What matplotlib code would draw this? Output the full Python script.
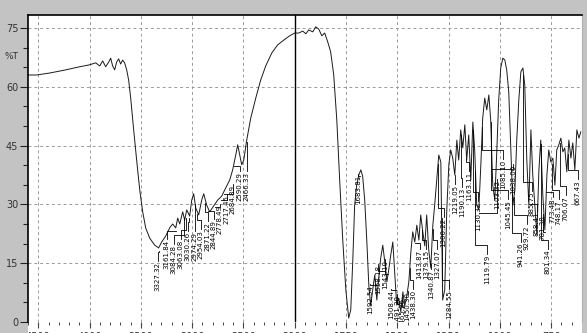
import numpy as np
import matplotlib
matplotlib.use("Agg")
import matplotlib.pyplot as plt
from matplotlib.patches import Rectangle
from matplotlib.ticker import FixedLocator, NullFormatter
from matplotlib.transforms import blended_transform_factory

# IR spectrum: wavenumber (cm-1) and transmittance (%T)
wavenumber = [
    4600, 4515, 4389, 4233, 4096, 3999, 3940, 3901, 3872, 3843,
    3813, 3794, 3775, 3755, 3736, 3716, 3697, 3677, 3658, 3638,
    3619, 3599, 3570, 3541, 3511, 3482, 3453, 3414, 3365, 3327,
    3297, 3258, 3219, 3190, 3160, 3141, 3121, 3092, 3073, 3053,
    3024, 3004, 2985, 2965, 2936, 2907, 2887, 2858, 2829, 2790,
    2751, 2712, 2673, 2634, 2605, 2575, 2556, 2536, 2517, 2497,
    2468, 2429, 2380, 2332, 2283, 2224, 2166, 2107, 2049, 2000,
    1980, 1961, 1946, 1932, 1912, 1898, 1883, 1868, 1854, 1839,
    1825, 1810, 1795, 1781, 1766, 1751, 1737, 1727, 1717, 1708,
    1698, 1688, 1678, 1669, 1659, 1649, 1639, 1630, 1620, 1610,
    1600, 1591, 1581, 1571, 1561, 1551, 1542, 1532, 1522, 1512,
    1503, 1493, 1483, 1473, 1464, 1454, 1444, 1434, 1425, 1415,
    1405, 1395, 1386, 1376, 1366, 1357, 1347, 1337, 1327, 1318,
    1308, 1298, 1288, 1279, 1269, 1259, 1249, 1240, 1230, 1220,
    1210, 1201, 1191, 1181, 1171, 1162, 1152, 1142, 1132, 1123,
    1113, 1103, 1093, 1084, 1074, 1064, 1054, 1045, 1035, 1025,
    1015, 1006, 996, 986, 976, 967, 957, 947, 937, 927,
    918, 908, 898, 888, 879, 869, 859, 849, 840, 830,
    820, 810, 801, 791, 781, 771, 762, 752, 742, 732,
    723, 713, 703, 693, 684, 674, 664, 654, 645, 635,
    625, 615, 606,
]
transmittance = [
    63.0, 63.0, 63.5, 64.3, 65.1, 65.6, 66.1, 65.3, 66.6, 65.1,
    66.3, 67.3, 65.3, 64.3, 66.3, 67.1, 65.8, 66.8, 66.1, 64.3,
    61.7, 57.1, 49.0, 41.3, 33.7, 28.1, 24.0, 21.4, 19.6, 18.9,
    20.4, 21.9, 24.0, 25.0, 24.0, 26.5, 25.0, 28.1, 26.0, 28.6,
    27.0, 31.1, 32.7, 29.1, 27.3, 31.1, 32.7, 29.8, 28.1, 29.6,
    31.1, 32.1, 34.2, 36.2, 38.8, 42.6, 45.2, 42.6, 40.1, 41.3,
    46.4, 52.0, 57.1, 61.7, 65.3, 68.6, 70.7, 71.9, 73.0, 73.7,
    73.7, 74.2, 73.5, 74.5, 74.0, 75.3, 74.7, 73.0, 73.7, 71.4,
    68.9, 63.0, 51.5, 36.2, 20.9, 8.2, 1.0, 3.1, 15.8, 29.8,
    34.9, 37.5, 38.8, 37.2, 31.1, 20.9, 9.4, 4.1, 8.2, 12.0,
    5.6, 11.2, 16.3, 19.6, 15.3, 10.2, 13.3, 17.1, 20.4, 12.0,
    4.3, 6.1, 2.6, 7.7, 4.1, 6.6, 10.2, 17.9, 23.0, 20.4,
    24.7, 20.9, 27.3, 23.0, 19.4, 27.3, 18.4, 13.8, 24.7, 29.8,
    36.2, 42.6, 40.8, 5.6, 8.2, 28.6, 40.1, 43.9, 41.8, 37.5,
    46.4, 41.3, 49.0, 44.4, 50.3, 41.3, 47.7, 36.2, 51.0, 43.9,
    29.8, 28.6, 40.1, 52.0, 57.1, 54.1, 57.9, 51.5, 34.9, 31.1,
    43.9, 56.6, 64.8, 67.3, 66.8, 64.3, 58.7, 43.9, 29.8, 33.7,
    46.4, 56.6, 63.8, 64.8, 60.5, 41.3, 29.8, 49.0, 37.5, 29.8,
    22.2, 38.8, 46.4, 32.4, 23.5, 37.5, 43.9, 40.8, 41.8, 34.9,
    43.9, 45.2, 46.9, 43.4, 44.4, 38.3, 46.4, 41.8, 45.7, 38.8,
    49.0, 46.9, 48.5,
]

# peak picks (cm-1)
peaks = [
    "3327.32", "3161.84", "3084.28", "3063.08", "3030.26", "2974.29",
    "2954.03", "2871.22", "2844.89", "2778.49", "2717.45", "2684.89",
    "2590.29", "2466.33",
    "1683.81", "1592.54", "1558.18", "1543.10", "1508.44", "1491.20",
    "1465.36", "1450.30", "1438.30", "1413.87", "1379.15", "1340.87",
    "1327.07", "1300.22", "1284.55",
    "1219.05", "1190.13", "1163.11", "1130.32", "1119.79", "1103.32",
    "1085.10", "1045.45", "1038.00", "941.26", "929.72", "885.75",
    "858.41", "801.34", "781.38", "773.48", "748.17", "706.07", "667.43",
]
# where each pick label sits: (wavenumber of text column, %T of text top)
label_pos = [
    (3336, 15.3), (3248, 20.9), (3180, 19.6), (3112, 20.9), (3043, 23.0), (2975, 23.0),
    (2917, 23.5), (2848, 25.5), (2790, 26.0), (2731, 29.8), (2663, 32.4), (2605, 34.9),
    (2536, 38.3), (2468, 38.3),
    (1693, 37.5), (1634, 9.4), (1595, 14.5), (1561, 15.8), (1530, 8.2), (1500, 6.9),
    (1475, 6.1), (1450, 7.7), (1425, 8.2), (1391, 18.4), (1361, 18.4), (1337, 13.3),
    (1308, 18.4), (1274, 26.5), (1249, 8.2),
    (1220, 34.9), (1186, 34.2), (1152, 38.3), (1108, 30.6), (1064, 17.1), (1015, 36.2),
    (986, 41.3), (962, 31.1), (937, 40.1), (898, 20.2), (869, 24.7), (845, 33.2),
    (820, 28.1), (767, 18.4), (791, 27.3), (742, 31.6), (713, 31.1), (679, 32.1), (620, 36.2),
]

y_ticks = [0, 15, 30, 45, 60, 75]
x_ticks = [4500, 4000, 3500, 3000, 2500, 2000, 1750, 1500, 1250, 1000, 750]


# the axis is compressed 2:1 above 2000 cm-1
def fwd(w):
    w = np.asarray(w, dtype=float)
    return np.where(w >= 2000, w, 2 * w - 2000)


def inv(u):
    u = np.asarray(u, dtype=float)
    return np.where(u >= 2000, u, (u + 2000) / 2)


fig = plt.figure(figsize=(5.87, 3.33), dpi=100, facecolor="#c3c3c3")
ax = fig.add_axes([28 / 587, 11 / 333, 554 / 587, 307 / 333])
ax.set_facecolor("white")
fig.add_artist(Rectangle((28 / 587, 0), 554 / 587, 11 / 333, transform=fig.transFigure,
                         facecolor="white", edgecolor="none", zorder=-1))

ax.set_xscale("function", functions=(fwd, inv))
ax.set_xlim(4600, 600)
ax.set_ylim(0, 78.3)

ax.xaxis.set_major_locator(FixedLocator(x_ticks))
minor_x = list(range(4600, 2000, -100)) + list(range(2000, 600, -50))
ax.xaxis.set_minor_locator(FixedLocator(minor_x))
ax.xaxis.set_minor_formatter(NullFormatter())
ax.yaxis.set_major_locator(FixedLocator(y_ticks))
ax.yaxis.set_minor_locator(FixedLocator(list(range(0, 80, 5))))

ax.tick_params(axis="y", which="major", length=6, width=0.8, color="#222", labelsize=7,
               labelcolor="#333", pad=1)
ax.tick_params(axis="y", which="minor", length=3.5, width=0.8, color="#222")
ax.tick_params(axis="x", which="major", length=4, width=0.8, color="#444", labelsize=7,
               labelcolor="#333", pad=3.5)
ax.tick_params(axis="x", which="minor", length=2.5, width=0.7, color="#444")

ax.grid(True, which="major", ls=(0, (3, 3)), color="#9a9a9a", lw=0.7)
ax.axvline(2000, color="black", lw=1)

for s in ["left", "top"]:
    ax.spines[s].set_color("black")
    ax.spines[s].set_linewidth(1.2)
ax.spines["right"].set_color("#b0b0b0")
ax.spines["bottom"].set_visible(False)

ax.plot(wavenumber, transmittance, color="#1a1a1a", lw=0.7)

ax.text(-0.018, 67.6, "%T", transform=blended_transform_factory(ax.transAxes, ax.transData),
        ha="right", va="center", fontsize=6.5, color="#333")

# peak labels with stepped leader lines
w_asc = np.array(wavenumber[::-1], dtype=float)
t_asc = np.array(transmittance[::-1], dtype=float)
for p, (lx, ly) in zip(peaks, label_pos):
    pw = float(p)
    pt = np.interp(pw, w_asc, t_asc)
    elbow = min(ly + 2.5, pt - 0.8)
    ax.plot([pw, pw, lx, lx], [pt - 0.8, elbow, elbow, ly + 0.3],
            color="black", lw=0.6, clip_on=True)
    ax.text(lx, ly, p, rotation=90, ha="center", va="top", fontsize=5,
            color="black", clip_on=True)

fig.savefig("out.png", dpi=100, facecolor=fig.get_facecolor())
